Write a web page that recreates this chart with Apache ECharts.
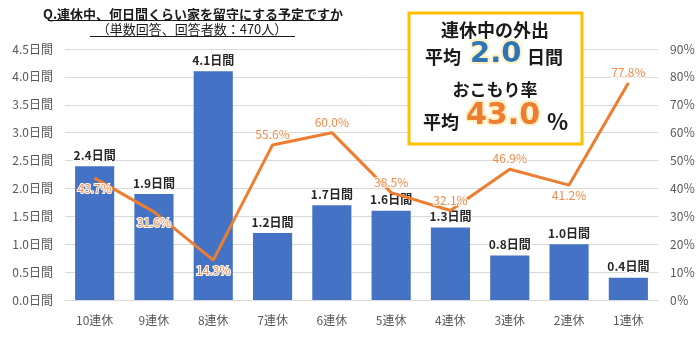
<!DOCTYPE html>
<html><head><meta charset="utf-8">
<script src="https://cdn.jsdelivr.net/npm/echarts@6/dist/echarts.min.js"></script>
<style>html,body{margin:0;padding:0;background:#fff}#c{width:700px;height:340px}</style>
</head><body><div id="c"></div>
<script>
const categories = ['10連休','9連休','8連休','7連休','6連休','5連休','4連休','3連休','2連休','1連休'];
const days = [2.4, 1.9, 4.1, 1.2, 1.7, 1.6, 1.3, 0.8, 1.0, 0.4];
const rate = [43.7, 31.6, 14.3, 55.6, 60.0, 38.5, 32.1, 46.9, 41.2, 77.8];
const ratePlacement = ['bottom','bottom','bottom','top','top','top','top','top','bottom','top'];
const avgDays = '2.0';
const avgRate = '43.0';
const FONT = '"Noto Sans CJK JP", sans-serif';
const NUMFONT = '"DejaVu Sans", sans-serif';

const chart = echarts.init(document.getElementById('c'), null, {renderer:'canvas'});

function txt(text, x, y, font, fill, align, extra){
  return {type:'text', z:101, x:x, y:y, style:Object.assign({
    text:text, font:font, fill:fill, textAlign:align||'left', textVerticalAlign:'middle'}, extra||{})};
}
function glowText(text, x, y, font, fill){
  const out = [];
  const offs = [[-2,0],[2,0],[0,-2],[0,2],[-1.5,-1.5],[1.5,-1.5],[-1.5,1.5],[1.5,1.5]];
  offs.forEach(o=>out.push(txt(text, x+o[0], y+o[1], font, '#FFF0C4', 'left', {shadowBlur:3, shadowColor:'#FFF6DA'})));
  out.push(txt(text, x, y, font, fill, 'left'));
  return out;
}

chart.setOption({
  animation:false,
  textStyle:{fontFamily:FONT},
  grid:{left:65, right:42, top:49, bottom:40},
  xAxis:{type:'category', data:categories,
    axisTick:{show:false},
    axisLine:{lineStyle:{color:'#D9D9D9'}},
    axisLabel:{color:'#595959', fontSize:12, margin:14, fontFamily:FONT}},
  yAxis:[
    {type:'value', min:0, max:4.5, interval:0.5,
     axisLabel:{color:'#595959', fontSize:12, fontFamily:FONT, margin:12, formatter:v=>v.toFixed(1)+'日間'},
     splitLine:{lineStyle:{color:'#D9D9D9'}}, axisLine:{show:false}, axisTick:{show:false}},
    {type:'value', min:0, max:90, interval:10,
     axisLabel:{color:'#595959', fontSize:12, fontFamily:FONT, margin:12, formatter:v=>v+'％'},
     splitLine:{show:false}, axisLine:{show:false}, axisTick:{show:false}}
  ],
  series:[
    {type:'bar', data:days, barCategoryGap:'34%',
     itemStyle:{color:'#4472C4'},
     label:{show:true, position:'top', distance:5, fontSize:12, fontWeight:'bold', color:'#262626',
       fontFamily:FONT, textBorderColor:'#fff', textBorderWidth:2,
       formatter:p=>p.value.toFixed(1)+'日間'}},
    {type:'line', yAxisIndex:1,
     data:rate.map((v,i)=>({value:v, label:{position:ratePlacement[i]}})),
     symbol:'circle', symbolSize:1, showSymbol:true,
     lineStyle:{color:'#ED7D31', width:3}, itemStyle:{color:'#ED7D31'},
     label:{show:true, fontSize:12, color:'#F08A4B', distance:4, fontFamily:FONT,
       textBorderColor:'#fff', textBorderWidth:2,
       formatter:p=>p.value.toFixed(1)+'%'}}
  ],
  graphic:[].concat(
    [
      txt('Q.連休中、何日間くらい家を留守にする予定ですか', 193, 14, 'bold 13px '+FONT, '#1a1a1a', 'center'),
      {type:'line', shape:{x1:48, y1:20.5, x2:338, y2:20.5}, style:{stroke:'#1a1a1a', lineWidth:1}},
      txt('（単数回答、回答者数：470人）', 192, 29.5, '13px '+FONT, '#1a1a1a', 'center'),
      {type:'line', shape:{x1:90, y1:36.5, x2:295, y2:36.5}, style:{stroke:'#1a1a1a', lineWidth:1}},
      {type:'rect', z:100, shape:{x:409, y:13, width:173, height:131}, style:{fill:'#fff', stroke:'#FFC000', lineWidth:3}},
      txt('連休中の外出', 495, 30, 'bold 18px '+FONT, '#1a1a1a', 'center'),
      txt('平均', 425, 57, 'bold 18px '+FONT, '#1a1a1a'),
      txt('日間', 527, 57, 'bold 18px '+FONT, '#1a1a1a'),
      txt('おこもり率', 495, 90, 'bold 17px '+FONT, '#1a1a1a', 'center'),
      txt('平均', 423, 122, 'bold 18px '+FONT, '#1a1a1a'),
      txt('%', 547, 122, 'bold 22px '+FONT, '#1a1a1a')
    ],
    glowText(avgDays, 470, 54, 'bold 29px '+NUMFONT, '#2E75B6'),
    glowText(avgRate, 466, 116, 'bold 30px '+NUMFONT, '#ED7D31')
  )
});
</script></body></html>
